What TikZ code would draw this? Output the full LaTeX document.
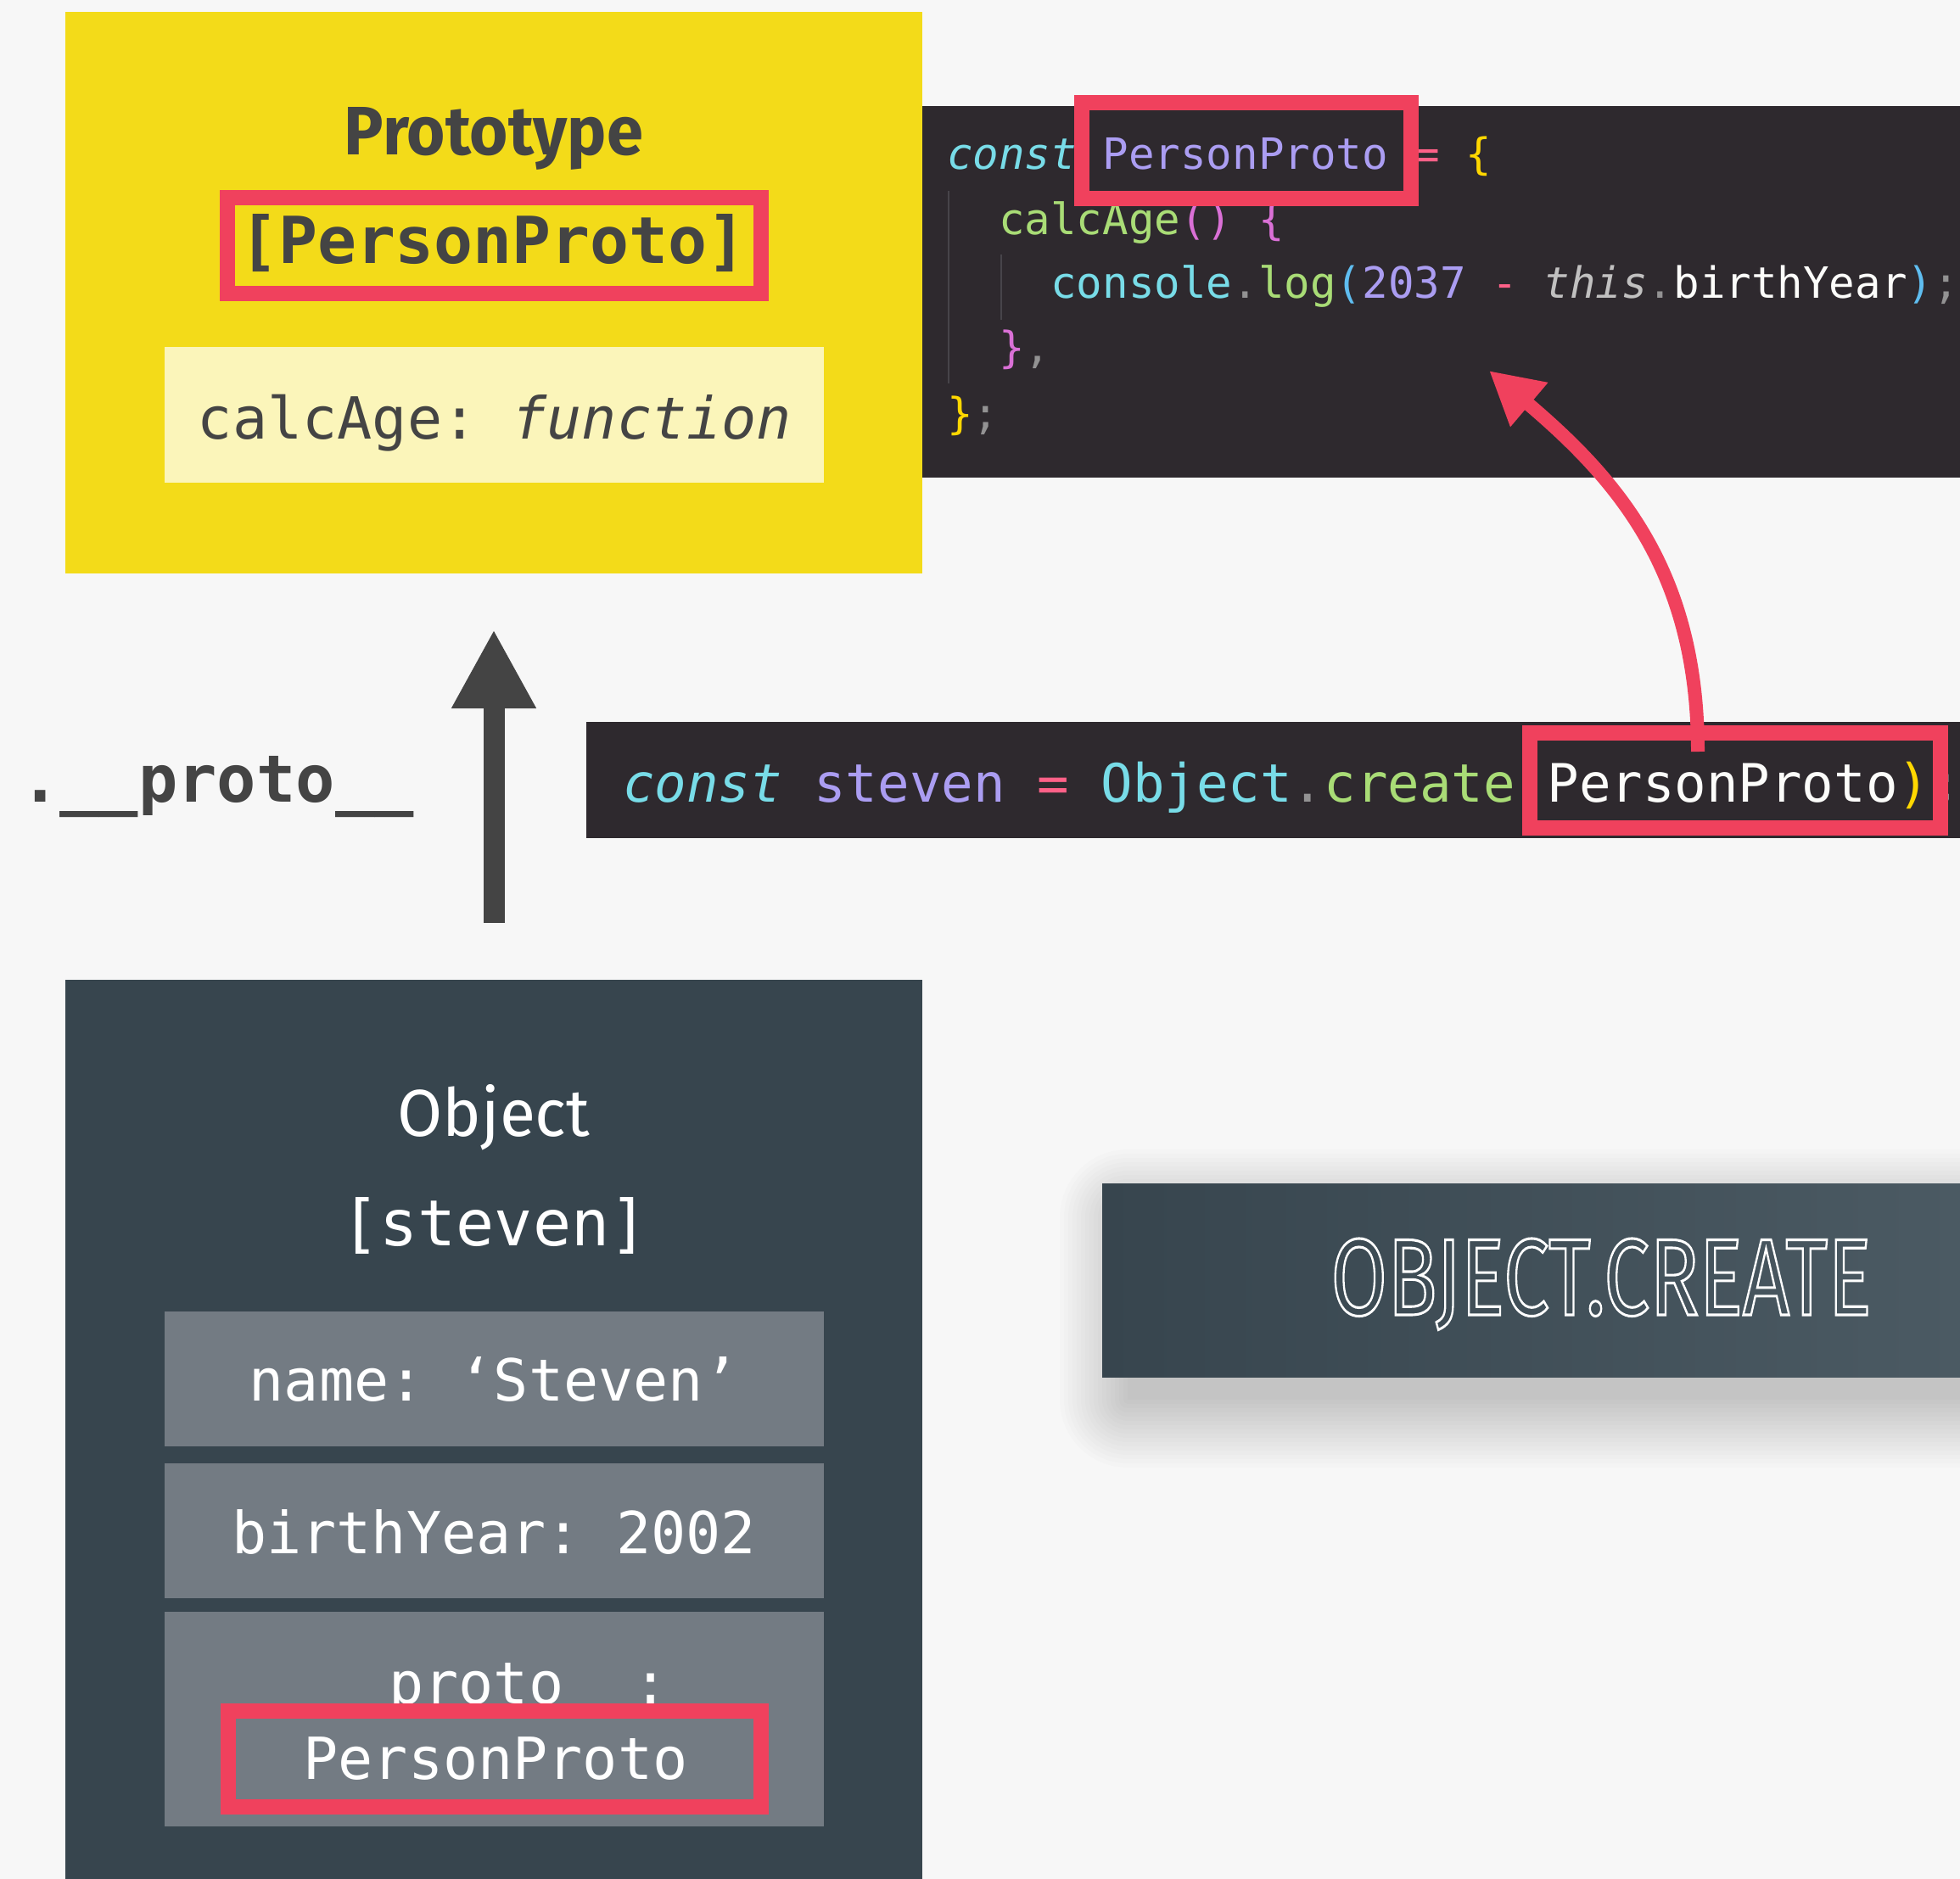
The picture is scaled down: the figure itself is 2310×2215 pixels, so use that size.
\documentclass[tikz,border=0pt]{standalone}
\usepackage{fontspec}
\usepackage{graphicx}
\usetikzlibrary{arrows.meta,calc}
\setmainfont{Fira Sans}
\setmonofont{DejaVu Sans Mono}
\newfontfamily\headfont{Fira Sans}
\newcommand\monosz[1]{\ttfamily\fontsize{#1}{#1}\selectfont}
\definecolor{kbg}{HTML}{F7F7F7}
\definecolor{kyellow}{HTML}{F3DB19}
\definecolor{klyellow}{HTML}{FBF5BA}
\definecolor{kdark}{HTML}{444444}
\definecolor{kred}{HTML}{F0415D}
\definecolor{kobj}{HTML}{37454E}
\definecolor{kprop}{HTML}{737B83}
\definecolor{kcode}{HTML}{2E292E}
\definecolor{kguide}{HTML}{47444A}
\definecolor{kcyan}{HTML}{78DCE8}
\definecolor{kpurple}{HTML}{AB9DF2}
\definecolor{kpink}{HTML}{FF6188}
\definecolor{kgold}{HTML}{FFD700}
\definecolor{korchid}{HTML}{DA70D6}
\definecolor{kblue}{HTML}{5FBDF0}
\definecolor{kgreen}{HTML}{A9DC76}
\definecolor{kwhite}{HTML}{FCFCFA}
\definecolor{kgrey}{HTML}{939293}
\definecolor{klight}{HTML}{C1C0C0}
\definecolor{ocleft}{HTML}{37454E}
\definecolor{ocright}{HTML}{4B5A63}
\newcommand\octxt{\resizebox{637pt}{90pt}{\headfont\special{pdf:literal direct 1 Tr 0.24 w}OBJECT.CREATE\special{pdf:literal direct 0 Tr}}}
\tikzset{
  box/.style={inner sep=0pt, outer sep=0pt},
  redbox/.style={draw=kred, line width=18pt, inner sep=0pt, outer sep=0pt},
  txt/.style={inner sep=0pt, outer sep=0pt},
  guide/.style={draw=kguide, line width=2pt},
  redarrow/.style={draw=kred, line width=16pt, -{Triangle[length=62pt,width=64pt]}},
  greyarrow/.style={draw=kdark, line width=25pt, -{Triangle[length=93pt,width=93pt]}},
}
\begin{document}
\begin{tikzpicture}[x=1pt,y=-1pt]
\useasboundingbox[fill=kbg] (0,0) rectangle (2310,2215);

% Prototype box
\node[box, fill=kyellow, minimum width=1010pt, minimum height=662pt] (protobox) at (582,345) {};
\node[txt, anchor=base, text=kdark] (prototitle) at (582,183) {\resizebox{352pt}{56pt}{\headfont\bfseries Prototype}};
\node[txt, anchor=base, text=kdark, font=\monosz{76.4pt}\bfseries] (protoname) at (581,311) {[PersonProto]};
\node[redbox, minimum width=629pt, minimum height=112.5pt] (rb1) at (582.5,289.75) {};
\node[box, fill=klyellow, minimum width=777pt, minimum height=160pt] (calcbox) at (582.5,489) {};
\node[txt, anchor=base, text=kdark, font=\monosz{68.4pt}] (calctext) at (583,517) {calcAge: \textit{function}};

% Code box 1
\node[box, fill=kcode, minimum width=1223pt, minimum height=438pt] (code1) at (1698.5,344) {};
\draw[guide] (1117.5,225) -- (1117.5,452);
\draw[guide] (1179.5,300) -- (1179.5,377);
\node[txt, anchor=base west, font=\monosz{50.8pt}] (l1) at (1116,200) {\textcolor{kcyan}{\itshape const} \textcolor{kpurple}{PersonProto} \textcolor{kpink}{=} \textcolor{kgold}{\{}};
\node[txt, anchor=base west, font=\monosz{50.8pt}] (l2) at (1177.2,277) {\textcolor{kgreen}{calcAge}\textcolor{korchid}{() \{}};
\node[txt, anchor=base west, font=\monosz{50.8pt}] (l3) at (1238.4,352) {\textcolor{kcyan}{console}\textcolor{kgrey}{.}\textcolor{kgreen}{log}\textcolor{kblue}{(}\textcolor{kpurple}{2037} \textcolor{kpink}{-} \textcolor{klight}{\itshape this}\textcolor{kgrey}{.}\textcolor{kwhite}{birthYear}\textcolor{kblue}{)}\textcolor{kgrey}{;}};
\node[txt, anchor=base west, font=\monosz{50.8pt}] (l4) at (1177.2,428) {\textcolor{korchid}{\}}\textcolor{kgrey}{,}};
\node[txt, anchor=base west, font=\monosz{50.8pt}] (l5) at (1116,505) {\textcolor{kgold}{\}}\textcolor{kgrey}{;}};
\node[redbox, minimum width=388pt, minimum height=113pt] (rb2) at (1469,177.5) {};

% Code box 2
\node[box, fill=kcode, minimum width=1619pt, minimum height=137pt] (code2) at (1500.5,919.5) {};
\node[txt, anchor=base west, font=\monosz{62.4pt}] (create) at (734,945) {\textcolor{kcyan}{\itshape const} \textcolor{kpurple}{steven} \textcolor{kpink}{=} \textcolor{kcyan}{Object}\textcolor{kgrey}{.}\textcolor{kgreen}{create}\textcolor{kgold}{(}\textcolor{kwhite}{PersonProto}\textcolor{kgold}{)}\textcolor{kgrey}{;}};
\node[redbox, minimum width=484pt, minimum height=112pt] (rb3) at (2045,920) {};

% __proto__ label
\node[txt, anchor=base, text=kdark, font=\monosz{77pt}\bfseries] (protolabel) at (256,945) {.\_\_proto\_\_};

% Object box
\node[box, fill=kobj, minimum width=1010pt, minimum height=1060pt] (objbox) at (582,1685) {};
\node[txt, anchor=base, text=white] (objtitle) at (582,1339) {\resizebox{227pt}{61pt}{\headfont Object}};
\node[txt, anchor=base, text=white, font=\monosz{75pt}] (objname) at (583,1468) {[steven]};
\node[box, fill=kprop, minimum width=777pt, minimum height=159pt] (namebox) at (582.5,1625.5) {};
\node[txt, anchor=base, text=white, font=\monosz{68.4pt}] (nametext) at (582,1651) {name: ‘Steven’};
\node[box, fill=kprop, minimum width=777pt, minimum height=159pt] (birthbox) at (582.5,1804.5) {};
\node[txt, anchor=base, text=white, font=\monosz{68.4pt}] (birthtext) at (582,1831) {birthYear: 2002};
\node[box, fill=kprop, minimum width=777pt, minimum height=253pt] (protoprop) at (582.5,2026.5) {};
\node[txt, anchor=base, text=white, font=\monosz{68.4pt}] (protokey) at (582,2008) {\_\_proto\_\_:};
\node[txt, anchor=base, text=white, font=\monosz{68.4pt}] (protoval) at (584,2097) {PersonProto};
\node[redbox, minimum width=628.5pt, minimum height=113pt] (rb4) at (582.75,2073.5) {};

% OBJECT.CREATE title with soft shadow
\foreach \e in {0,5,...,80}
  \fill[black, opacity=0.011, rounded corners=\e pt] (1329-\e,1435-\e) rectangle (2310+\e,1650+\e);
\node[box, left color=ocleft, right color=ocright, minimum width=1011pt, minimum height=228pt] (ocbox) at (1804.5,1509) {};
\node[txt, anchor=base, text=white] (octitle) at (1887,1550) {\octxt};

% arrows
\coordinate (gstart) at (582,1088);
\coordinate (gtip) at (582,742);
\draw[greyarrow] (gstart) -- (gtip);
\coordinate (rstart) at (2001,886);
\coordinate (rtip) at (1755,437);
\draw[redarrow] (rstart) .. controls (2001,674) and (1907,566) .. (rtip);
\end{tikzpicture}
\end{document}
